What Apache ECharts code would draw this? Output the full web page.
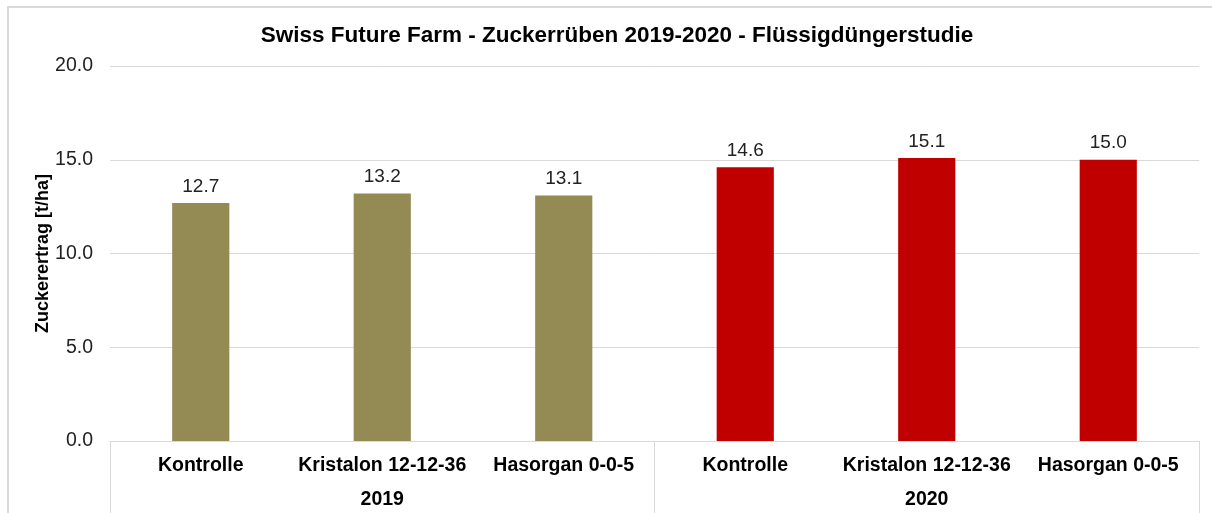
<!DOCTYPE html>
<html>
<head>
<meta charset="utf-8">
<script src="https://cdn.jsdelivr.net/npm/echarts@6/dist/echarts.min.js"></script>
<style>
html,body{margin:0;padding:0;background:#fff;overflow:hidden;}
#frame{position:absolute;left:7px;top:6px;width:1400px;height:700px;border:2px solid #d9d9d9;box-sizing:border-box;pointer-events:none;}
#chart{position:absolute;left:0;top:0;width:1212px;height:513px;}
</style>
</head>
<body>
<div id="chart"></div>
<div id="frame"></div>
<script>
const categories = ['Kontrolle','Kristalon 12-12-36','Hasorgan 0-0-5','Kontrolle','Kristalon 12-12-36','Hasorgan 0-0-5'];
const groups = ['2019','2019','2019','2020','2020','2020'];
const groupLabels = ['2019','2020'];
const values = [12.7, 13.2, 13.1, 14.6, 15.1, 15.0];
const groupColors = {'2019':'#948A54','2020':'#C00000'};
const yTicks = {min:0, max:20, interval:5};

const chart = echarts.init(document.getElementById('chart'), null, {renderer:'canvas'});
const font = '"Liberation Sans", Arial, sans-serif';
chart.setOption({
  animation:false,
  backgroundColor:'#fff',
  title:{
    text:'Swiss Future Farm - Zuckerrüben 2019-2020 - Flüssigdüngerstudie',
    left:612, top:19, textAlign:'center',
    textStyle:{fontFamily:font,fontSize:22.5,fontWeight:'bold',color:'#000'}
  },
  grid:{left:110,right:13,top:66,bottom:72,containLabel:false},
  xAxis:[
    {
      type:'category', data:categories, position:'bottom',
      axisLine:{show:true,lineStyle:{color:'#d9d9d9',width:1}},
      axisTick:{show:false},
      axisLabel:{fontFamily:font,fontSize:19.5,fontWeight:'bold',color:'#000',margin:15,interval:0}
    },
    {
      type:'category', data:groupLabels, position:'bottom',
      axisLine:{show:false},
      axisTick:{show:true,length:80,lineStyle:{color:'#d9d9d9',width:1}},
      axisLabel:{fontFamily:font,fontSize:19.5,fontWeight:'bold',color:'#000',margin:49}
    }
  ],
  yAxis:{
    type:'value', min:yTicks.min, max:yTicks.max, interval:yTicks.interval,
    name:'Zuckerertrag [t/ha]', nameLocation:'middle', nameGap:58, nameRotate:90,
    nameMoveOverlap:false,
    nameTextStyle:{fontFamily:font,fontSize:18,fontWeight:'bold',color:'#000'},
    axisLine:{show:false}, axisTick:{show:false},
    axisLabel:{fontFamily:font,fontSize:19.5,color:'#222',margin:17,padding:[3,0,0,0],formatter:v=>v.toFixed(1)},
    splitLine:{lineStyle:{color:'#d9d9d9',width:1}}
  },
  series:[{
    type:'bar', xAxisIndex:0,
    barWidth:'31.5%',
    data:values.map((v,i)=>({value:v,itemStyle:{color:groupColors[groups[i]]}})),
    label:{show:true,position:'top',distance:7,fontFamily:font,fontSize:19,color:'#222',formatter:p=>p.value.toFixed(1)}
  }]
});
</script>
</body>
</html>
